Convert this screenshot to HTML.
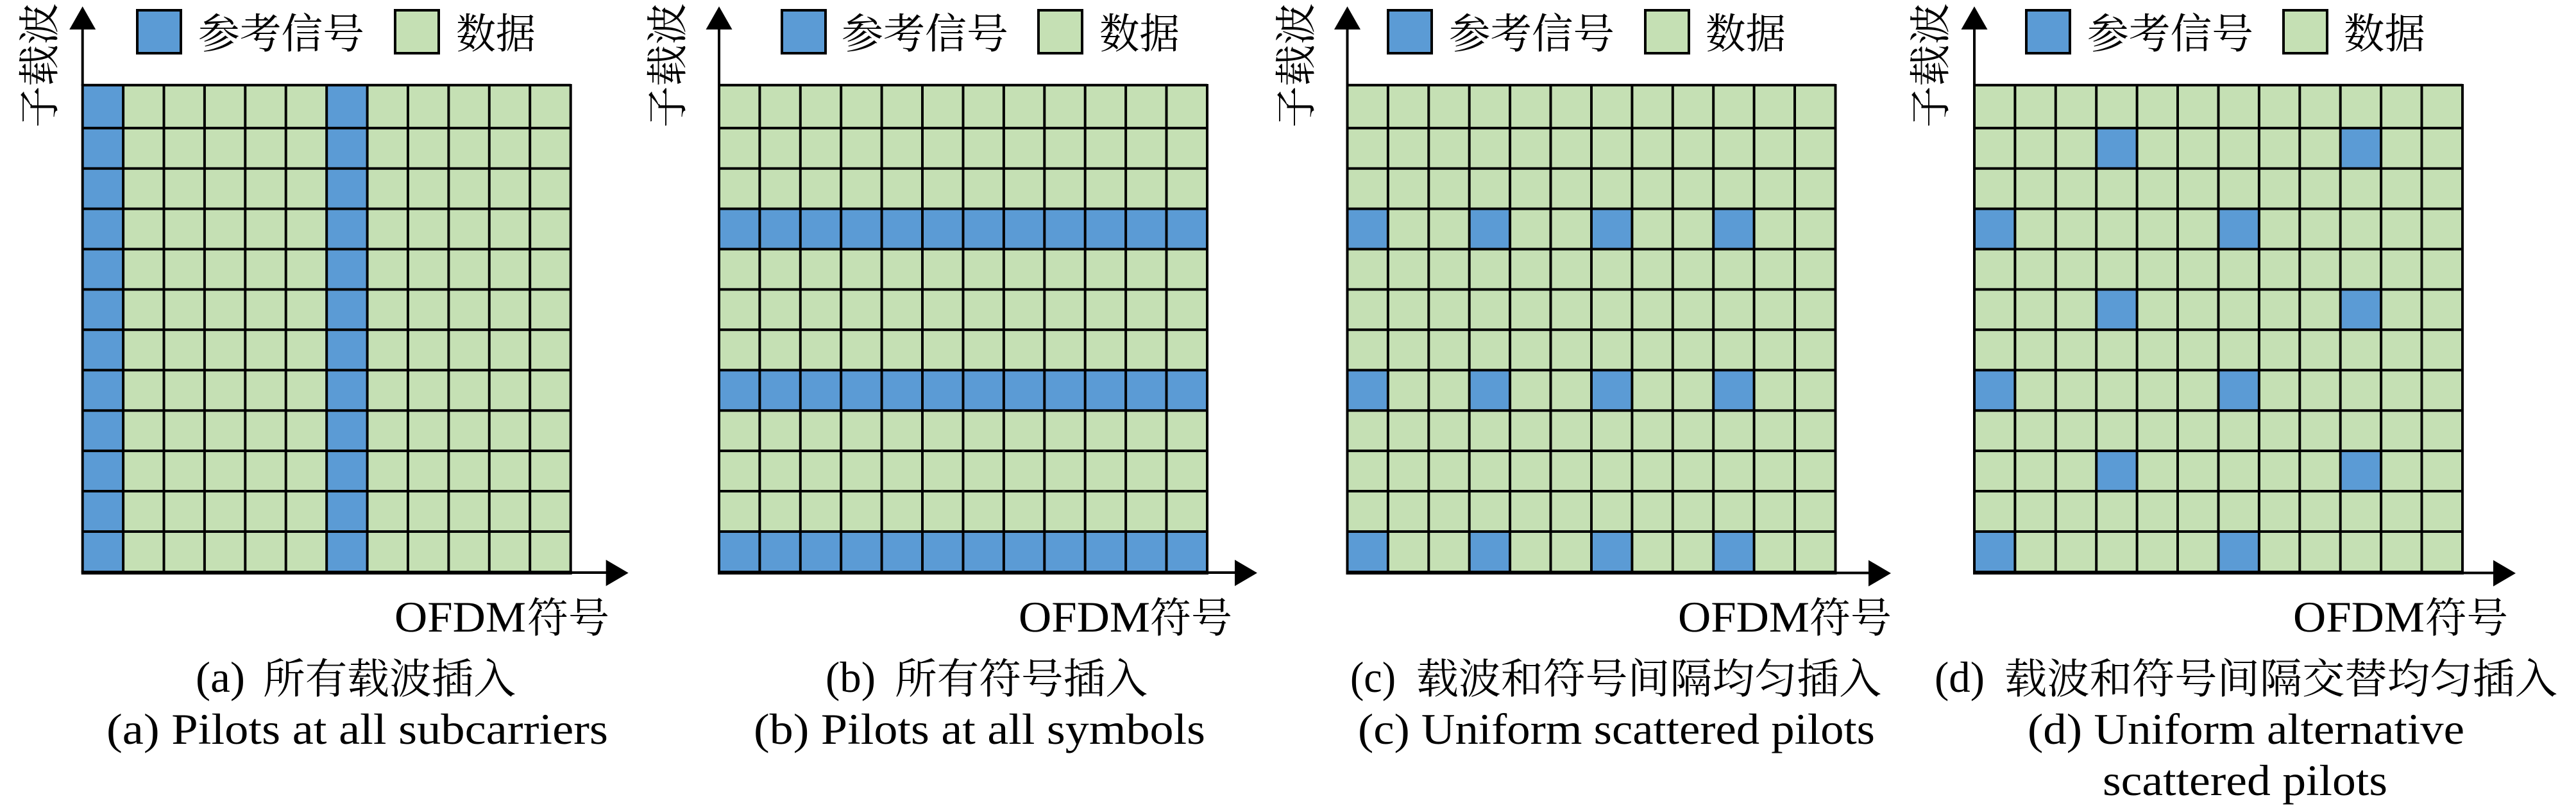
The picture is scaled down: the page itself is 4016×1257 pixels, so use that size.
<!DOCTYPE html>
<html lang="zh">
<head>
<meta charset="utf-8">
<title>Pilot patterns</title>
<style>
html,body{margin:0;padding:0;background:#fff;}
svg{display:block;}
text{fill:#000;font-family:"Liberation Serif","Noto Serif CJK SC",serif;}
.c{font-family:"Noto Serif CJK SC","Noto Sans CJK SC",serif;font-size:65px;}
.l{font-family:"Liberation Serif",serif;font-size:68px;}
</style>
</head>
<body>
<svg xmlns="http://www.w3.org/2000/svg" width="4016" height="1257" viewBox="0 0 4016 1257">
<defs>
<g id="grid">
<path fill="none" stroke="#000" stroke-width="4" d="M0 132.8H761M0 199.8H761M0 262.8H761M0 325.6H761M0 388.5H761M0 451.4H761M0 514.3H761M0 577.3H761M0 640.2H761M0 703.1H761M0 766H761M0 829H761
M0 131V893M63.4 131V893M126.8 131V893M190.2 131V893M253.6 131V893M317 131V893M380.5 131V893M443.9 131V893M507.3 131V893M570.7 131V893M634.1 131V893M697.5 131V893M761 131V893"/>
<rect x="-2" y="890" width="765" height="6" fill="#000"/>
</g>
<rect id="col" x="0" y="132.8" width="63.4" height="760.2" fill="#5B9BD5"/>
<g id="r3"><rect x="0" y="325.6" width="761" height="62.9" fill="#5B9BD5"/></g>
<g id="r7"><rect x="0" y="577.3" width="761" height="62.9" fill="#5B9BD5"/></g>
<g id="r11"><rect x="0" y="829" width="761" height="64" fill="#5B9BD5"/></g>
</defs>

<!-- Panel a -->
<g transform="translate(128.7 0)">
<rect x="0" y="132.8" width="761" height="760" fill="#C5E0B4"/>
<use href="#col" x="0"/><use href="#col" x="380.5"/>
<use href="#grid"/>
<path d="M0 134V44" stroke="#000" stroke-width="4"/>
<path d="M0 10L20.5 46H-20.5Z" fill="#000"/>
<path d="M761 893H818" stroke="#000" stroke-width="4"/>
<path d="M851 893.5L816 873V914Z" fill="#000"/>
</g>
<rect x="214" y="16" width="68" height="67" fill="#5B9BD5" stroke="#000" stroke-width="4"/>
<text class="c" x="309" y="75" textLength="259" lengthAdjust="spacingAndGlyphs">参考信号</text>
<rect x="616" y="16" width="68" height="67" fill="#C5E0B4" stroke="#000" stroke-width="4"/>
<text class="c" x="711" y="75" textLength="124" lengthAdjust="spacingAndGlyphs">数据</text>
<text class="c" transform="translate(84 199) rotate(-90)" textLength="194" lengthAdjust="spacingAndGlyphs">子载波</text>
<text class="l" x="615" y="985" textLength="205" lengthAdjust="spacingAndGlyphs">OFDM</text>
<text class="c" x="822" y="986" textLength="128" lengthAdjust="spacingAndGlyphs">符号</text>
<text class="l" x="305" y="1079" textLength="77" lengthAdjust="spacingAndGlyphs">(a)</text>
<text class="c" x="410" y="1081" textLength="394" lengthAdjust="spacingAndGlyphs">所有载波插入</text>
<text class="l" x="166" y="1160" textLength="782" lengthAdjust="spacingAndGlyphs">(a) Pilots at all subcarriers</text>

<!-- Panel b -->
<g transform="translate(1121 0)">
<rect x="0" y="132.8" width="761" height="760" fill="#C5E0B4"/>
<use href="#r3"/><use href="#r7"/><use href="#r11"/>
<use href="#grid"/>
<path d="M0 134V44" stroke="#000" stroke-width="4"/>
<path d="M0 10L20.5 46H-20.5Z" fill="#000"/>
<path d="M761 893H806" stroke="#000" stroke-width="4"/>
<path d="M839 893.5L804 873V914Z" fill="#000"/>
</g>
<rect x="1219" y="16" width="68" height="67" fill="#5B9BD5" stroke="#000" stroke-width="4"/>
<text class="c" x="1312" y="75" textLength="260" lengthAdjust="spacingAndGlyphs">参考信号</text>
<rect x="1619" y="16" width="68" height="67" fill="#C5E0B4" stroke="#000" stroke-width="4"/>
<text class="c" x="1714" y="75" textLength="125" lengthAdjust="spacingAndGlyphs">数据</text>
<text class="c" transform="translate(1063 199) rotate(-90)" textLength="194" lengthAdjust="spacingAndGlyphs">子载波</text>
<text class="l" x="1588" y="985" textLength="205" lengthAdjust="spacingAndGlyphs">OFDM</text>
<text class="c" x="1793" y="986" textLength="128" lengthAdjust="spacingAndGlyphs">符号</text>
<text class="l" x="1287" y="1079" textLength="78" lengthAdjust="spacingAndGlyphs">(b)</text>
<text class="c" x="1395" y="1081" textLength="394" lengthAdjust="spacingAndGlyphs">所有符号插入</text>
<text class="l" x="1175" y="1160" textLength="704" lengthAdjust="spacingAndGlyphs">(b) Pilots at all symbols</text>

<!-- Panel c -->
<g transform="translate(2100.5 0)">
<rect x="0" y="132.8" width="761" height="760" fill="#C5E0B4"/>
<g fill="#5B9BD5">
<rect x="0" y="325.6" width="63.4" height="62.9"/><rect x="190.2" y="325.6" width="63.4" height="62.9"/><rect x="380.5" y="325.6" width="63.4" height="62.9"/><rect x="570.7" y="325.6" width="63.4" height="62.9"/>
<rect x="0" y="577.3" width="63.4" height="62.9"/><rect x="190.2" y="577.3" width="63.4" height="62.9"/><rect x="380.5" y="577.3" width="63.4" height="62.9"/><rect x="570.7" y="577.3" width="63.4" height="62.9"/>
<rect x="0" y="829" width="63.4" height="64"/><rect x="190.2" y="829" width="63.4" height="64"/><rect x="380.5" y="829" width="63.4" height="64"/><rect x="570.7" y="829" width="63.4" height="64"/>
</g>
<use href="#grid"/>
<path d="M0 134V44" stroke="#000" stroke-width="4"/>
<path d="M0 10L20.5 46H-20.5Z" fill="#000"/>
<path d="M761 893.5H815" stroke="#000" stroke-width="4"/>
<path d="M847.5 894L812.5 873.5V914.5Z" fill="#000"/>
</g>
<rect x="2164" y="16" width="68" height="67" fill="#5B9BD5" stroke="#000" stroke-width="4"/>
<text class="c" x="2259" y="75" textLength="258" lengthAdjust="spacingAndGlyphs">参考信号</text>
<rect x="2565" y="16" width="68" height="67" fill="#C5E0B4" stroke="#000" stroke-width="4"/>
<text class="c" x="2659" y="75" textLength="125" lengthAdjust="spacingAndGlyphs">数据</text>
<text class="c" transform="translate(2043 199) rotate(-90)" textLength="194" lengthAdjust="spacingAndGlyphs">子载波</text>
<text class="l" x="2616" y="985" textLength="205" lengthAdjust="spacingAndGlyphs">OFDM</text>
<text class="c" x="2821" y="986" textLength="128" lengthAdjust="spacingAndGlyphs">符号</text>
<text class="l" x="2105" y="1079" textLength="71" lengthAdjust="spacingAndGlyphs">(c)</text>
<text class="c" x="2208" y="1081" textLength="725" lengthAdjust="spacingAndGlyphs">载波和符号间隔均匀插入</text>
<text class="l" x="2117" y="1160" textLength="806" lengthAdjust="spacingAndGlyphs">(c) Uniform scattered pilots</text>

<!-- Panel d -->
<g transform="translate(3078 0)">
<rect x="0" y="132.8" width="761" height="760" fill="#C5E0B4"/>
<g fill="#5B9BD5">
<rect x="190.2" y="199.8" width="63.4" height="63"/><rect x="570.7" y="199.8" width="63.4" height="63"/>
<rect x="190.2" y="451.4" width="63.4" height="62.9"/><rect x="570.7" y="451.4" width="63.4" height="62.9"/>
<rect x="190.2" y="703.1" width="63.4" height="62.9"/><rect x="570.7" y="703.1" width="63.4" height="62.9"/>
<rect x="0" y="325.6" width="63.4" height="62.9"/><rect x="380.5" y="325.6" width="63.4" height="62.9"/>
<rect x="0" y="577.3" width="63.4" height="62.9"/><rect x="380.5" y="577.3" width="63.4" height="62.9"/>
<rect x="0" y="829" width="63.4" height="64"/><rect x="380.5" y="829" width="63.4" height="64"/>
</g>
<use href="#grid"/>
<path d="M0 134V44" stroke="#000" stroke-width="4"/>
<path d="M0 10L20.5 46H-20.5Z" fill="#000"/>
<path d="M761 893.5H812" stroke="#000" stroke-width="4"/>
<path d="M844 894L809 873.5V914.5Z" fill="#000"/>
</g>
<rect x="3159" y="16" width="68" height="67" fill="#5B9BD5" stroke="#000" stroke-width="4"/>
<text class="c" x="3254" y="75" textLength="259" lengthAdjust="spacingAndGlyphs">参考信号</text>
<rect x="3560" y="16" width="68" height="67" fill="#C5E0B4" stroke="#000" stroke-width="4"/>
<text class="c" x="3654" y="75" textLength="127" lengthAdjust="spacingAndGlyphs">数据</text>
<text class="c" transform="translate(3032 199) rotate(-90)" textLength="194" lengthAdjust="spacingAndGlyphs">子载波</text>
<text class="l" x="3575" y="985" textLength="205" lengthAdjust="spacingAndGlyphs">OFDM</text>
<text class="c" x="3781" y="986" textLength="129" lengthAdjust="spacingAndGlyphs">符号</text>
<text class="l" x="3016" y="1079" textLength="78" lengthAdjust="spacingAndGlyphs">(d)</text>
<text class="c" x="3125" y="1081" textLength="862" lengthAdjust="spacingAndGlyphs">载波和符号间隔交替均匀插入</text>
<text class="l" x="3161" y="1160" textLength="681" lengthAdjust="spacingAndGlyphs">(d) Uniform alternative</text>
<text class="l" x="3278" y="1240" textLength="444" lengthAdjust="spacingAndGlyphs">scattered pilots</text>
</svg>
</body>
</html>
